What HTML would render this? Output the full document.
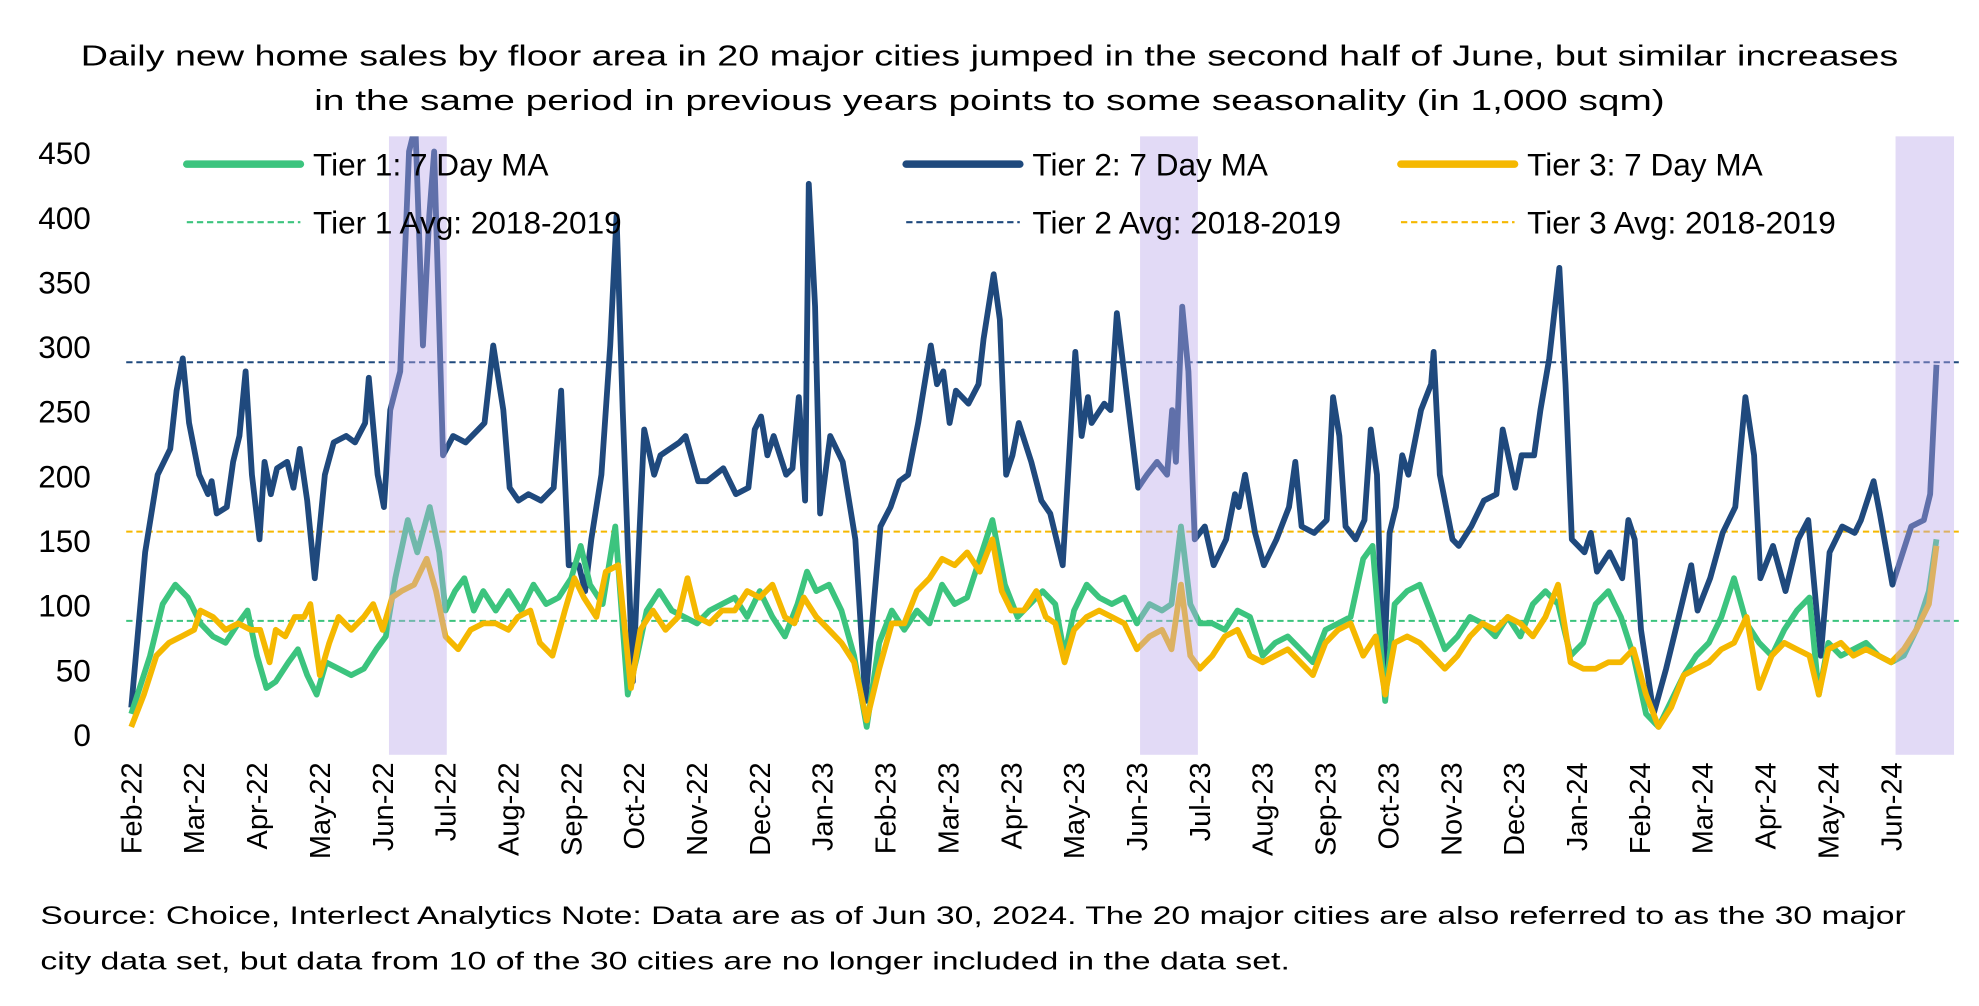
<!DOCTYPE html>
<html><head><meta charset="utf-8"><style>
html,body{margin:0;padding:0;background:#fff;}
svg{display:block;font-family:"Liberation Sans",sans-serif;}
</style></head><body>
<svg id="chart" width="1979" height="1006" viewBox="0 0 1568 797" xmlns="http://www.w3.org/2000/svg">
<text x="784" y="52" text-anchor="middle" font-size="23" textLength="1440" lengthAdjust="spacingAndGlyphs">Daily new home sales by floor area in 20 major cities jumped in the second half of June, but similar increases</text>
<text x="784" y="87" text-anchor="middle" font-size="23" textLength="1070" lengthAdjust="spacingAndGlyphs">in the same period in previous years points to some seasonality (in 1,000 sqm)</text>
<defs><clipPath id="plotclip"><rect x="95" y="108" width="1465" height="500"/></clipPath></defs>
<g id="yaxis"></g>
<g id="xaxis"></g>
<g id="series" clip-path="url(#plotclip)"></g>
<g id="bands"></g>
<g id="legend"></g>
<text x="32" y="732" font-size="20" textLength="1478" lengthAdjust="spacingAndGlyphs">Source: Choice, Interlect Analytics   Note: Data are as of Jun 30, 2024.  The 20 major cities are also referred to as the 30 major</text>
<text x="32" y="768" font-size="20" textLength="990" lengthAdjust="spacingAndGlyphs">city data set, but data from 10 of the 30 cities are no longer included in the data set.</text>
</svg>
<script>
const months = ["Feb-22","Mar-22","Apr-22","May-22","Jun-22","Jul-22","Aug-22","Sep-22","Oct-22","Nov-22","Dec-22","Jan-23","Feb-23","Mar-23","Apr-23","May-23","Jun-23","Jul-23","Aug-23","Sep-23","Oct-23","Nov-23","Dec-23","Jan-24","Feb-24","Mar-24","Apr-24","May-24","Jun-24"];
const yTicks = [0,50,100,150,200,250,300,350,400,450];
// time in months since Feb-22
const tier2T = [0,.22,.42,.62,.72,.82,.92,1.08,1.22,1.28,1.36,1.52,1.62,1.72,1.82,1.92,2.04,2.12,2.22,2.32,2.48,2.58,2.68,2.8,2.92,3.08,3.22,3.42,3.56,3.72,3.78,3.92,4.02,4.12,4.28,4.42,4.52,4.64,4.74,4.82,4.96,5.12,5.32,5.52,5.62,5.76,5.92,6.02,6.16,6.32,6.52,6.72,6.84,6.96,7.12,7.22,7.32,7.48,7.62,7.72,7.82,7.98,8.08,8.16,8.32,8.42,8.72,8.82,9.02,9.16,9.42,9.62,9.82,9.92,10.02,10.12,10.22,10.42,10.52,10.62,10.72,10.78,10.88,10.96,11.12,11.32,11.52,11.68,11.92,12.08,12.22,12.36,12.52,12.72,12.82,12.92,13.02,13.12,13.32,13.48,13.56,13.72,13.82,13.92,14.02,14.12,14.32,14.48,14.62,14.82,15.02,15.12,15.22,15.28,15.48,15.58,15.68,15.82,16.02,16.16,16.32,16.48,16.56,16.62,16.72,16.82,16.92,17.08,17.22,17.42,17.56,17.62,17.72,17.88,18.02,18.22,18.42,18.52,18.62,18.82,19.02,19.12,19.22,19.32,19.48,19.62,19.72,19.82,19.92,20.02,20.12,20.22,20.32,20.52,20.68,20.72,20.82,21.02,21.12,21.32,21.52,21.72,21.82,22.02,22.12,22.32,22.42,22.56,22.72,22.82,22.92,23.12,23.22,23.32,23.52,23.72,23.82,23.92,24.02,24.22,24.42,24.62,24.82,24.92,25.12,25.32,25.52,25.68,25.82,25.92,26.12,26.32,26.52,26.68,26.88,27.02,27.22,27.42,27.52,27.72,27.82,28.02,28.12,28.32,28.52,28.62,28.72];
const tier2V = [20,140,200,220,265,290,240,200,185,195,170,175,210,230,280,200,150,210,185,205,210,190,220,180,120,200,225,230,225,240,275,200,175,250,280,450,470,300,400,450,215,230,225,235,240,300,250,190,180,185,180,190,265,130,130,110,150,200,300,400,250,40,150,235,200,215,225,230,195,195,205,185,190,235,245,215,230,200,205,260,180,425,330,170,230,210,150,25,160,175,195,200,240,300,270,280,240,265,255,270,305,355,320,200,215,240,210,180,170,130,295,230,260,240,255,250,325,270,190,200,210,200,250,210,330,280,150,160,130,150,185,175,200,155,130,150,175,210,160,155,165,260,230,160,150,165,235,200,40,155,175,215,200,250,270,295,200,150,145,160,180,185,235,190,215,215,250,290,360,270,150,140,155,125,140,120,165,150,80,15,50,90,130,95,120,155,175,260,215,120,145,110,150,165,60,140,160,155,165,195,170,115,130,160,165,185,285];
const tier1T = [0,.3,.5,.7,.9,1.1,1.3,1.5,1.7,1.85,2.0,2.15,2.3,2.5,2.65,2.8,2.95,3.1,3.3,3.5,3.7,3.9,4.05,4.2,4.4,4.55,4.75,4.9,5.0,5.15,5.3,5.45,5.6,5.8,6.0,6.2,6.4,6.6,6.8,7.0,7.15,7.3,7.5,7.7,7.9,8.05,8.2,8.4,8.6,8.8,9.0,9.2,9.4,9.6,9.8,10.0,10.2,10.4,10.6,10.75,10.9,11.1,11.3,11.5,11.7,11.9,12.1,12.3,12.5,12.7,12.9,13.1,13.3,13.5,13.7,13.9,14.1,14.3,14.5,14.7,14.85,15.0,15.2,15.4,15.6,15.8,16.0,16.2,16.4,16.55,16.7,16.85,17.0,17.2,17.4,17.6,17.8,18.0,18.2,18.4,18.6,18.8,19.0,19.2,19.4,19.6,19.75,19.95,20.1,20.3,20.5,20.7,20.9,21.1,21.3,21.5,21.7,21.9,22.1,22.3,22.5,22.7,22.9,23.1,23.3,23.5,23.7,23.9,24.1,24.3,24.5,24.7,24.9,25.1,25.3,25.5,25.7,25.9,26.1,26.3,26.5,26.7,26.85,27.0,27.2,27.4,27.6,27.8,28.0,28.2,28.4,28.6,28.72];
const tier1V = [15,60,100,115,105,85,75,70,85,95,60,35,40,55,65,45,30,55,50,45,50,65,75,120,165,140,175,140,95,110,120,95,110,95,110,95,115,100,105,120,145,115,100,160,30,60,95,110,95,90,85,95,100,105,90,110,90,75,100,125,110,115,95,60,5,70,95,80,95,85,115,100,105,135,165,115,90,100,110,100,60,95,115,105,100,105,85,100,95,100,160,100,85,85,80,95,90,60,70,75,65,55,80,85,90,135,145,25,100,110,115,90,65,75,90,85,75,90,75,100,110,100,60,70,100,110,90,60,15,5,25,45,60,70,90,120,85,70,60,80,95,105,30,70,60,65,70,60,55,60,80,110,150];
const tier3T = [0,.2,.4,.6,.8,1.0,1.1,1.3,1.5,1.7,1.9,2.05,2.2,2.3,2.45,2.6,2.75,2.85,3.0,3.15,3.3,3.5,3.7,3.85,4.0,4.15,4.3,4.5,4.7,4.85,5.0,5.2,5.4,5.6,5.8,6.0,6.15,6.35,6.5,6.7,6.9,7.05,7.2,7.4,7.55,7.75,7.95,8.1,8.3,8.5,8.7,8.85,9.0,9.2,9.4,9.6,9.8,10.0,10.2,10.4,10.55,10.7,10.9,11.1,11.3,11.5,11.7,11.9,12.1,12.3,12.5,12.7,12.9,13.1,13.3,13.5,13.7,13.85,14.0,14.2,14.4,14.55,14.7,14.85,15.0,15.2,15.4,15.6,15.8,16.0,16.2,16.4,16.55,16.7,16.85,17.0,17.2,17.4,17.6,17.8,18.0,18.2,18.4,18.6,18.8,19.0,19.2,19.4,19.6,19.8,19.95,20.1,20.3,20.5,20.7,20.9,21.1,21.3,21.5,21.7,21.9,22.1,22.3,22.5,22.7,22.9,23.1,23.3,23.5,23.7,23.9,24.1,24.3,24.5,24.7,24.9,25.1,25.3,25.5,25.7,25.9,26.1,26.3,26.5,26.7,26.85,27.0,27.2,27.4,27.6,27.8,28.0,28.2,28.4,28.6,28.72];
const tier3V = [5,30,60,70,75,80,95,90,80,85,80,80,55,80,75,90,90,100,45,70,90,80,90,100,80,105,110,115,135,110,75,65,80,85,85,80,90,95,70,60,95,120,105,90,125,130,35,80,95,80,90,120,90,85,95,95,110,105,115,90,85,105,90,80,70,55,10,50,85,85,110,120,135,130,140,125,150,110,95,95,110,90,85,55,80,90,95,90,85,65,75,80,65,115,60,50,60,75,80,60,55,60,65,55,45,70,80,85,60,75,30,70,75,70,60,50,60,75,85,80,90,85,75,90,115,55,50,50,55,55,65,30,5,20,45,50,55,65,70,90,35,60,70,65,60,30,65,70,60,65,60,55,65,80,100,145];
const avgNames = ["Tier 1 Avg: 2018-2019","Tier 2 Avg: 2018-2019","Tier 3 Avg: 2018-2019"];
const avgValues = [87,287,156];
const bandStarts = [4.1,16.05,28.07];
const bandEnds = [5.02,16.97,29.0];

const NS="http://www.w3.org/2000/svg";
const X0=104, MW=49.8, Y0=581, YS=(581-120)/450;
const xs=m=>X0+m*MW, ys=v=>Y0-v*YS;
function mk(tag,parent,attrs){const e=document.createElementNS(NS,tag);for(const k in attrs)e.setAttribute(k,attrs[k]);parent.appendChild(e);return e;}
const C1="#3cc47e",C2="#1f497d",C3="#f5b800";

const ya=document.getElementById('yaxis');
yTicks.forEach(t=>{const e=mk('text',ya,{x:72,y:ys(t)+10,'text-anchor':'end','font-size':25});


e.textContent=t;});
const xa=document.getElementById('xaxis');
months.forEach((m,i)=>{const x=xs(i)+8;const e=mk('text',xa,{x:0,y:0,transform:`translate(${x},604) rotate(-90)`,'text-anchor':'end','font-size':23});


e.textContent=m;});

const sg=document.getElementById('series');
const avgColors=[C1,C2,C3];
avgValues.forEach((v,i)=>{const l=mk('line',sg,{x1:100,x2:1552,y1:ys(v),y2:ys(v),stroke:avgColors[i],'stroke-width':1.6,'stroke-dasharray':'5,3'});

});
function line(T,V,c,name){const d=T.map((t,i)=>(i?'L':'M')+xs(t).toFixed(1)+','+ys(V[i]).toFixed(1)).join('');
const p=mk('path',sg,{d,fill:'none',stroke:c,'stroke-width':4.6,'stroke-linejoin':'round'});

}
line(tier2T,tier2V,C2,'tier-2-line');
line(tier1T,tier1V,C1,'tier-1-line');
line(tier3T,tier3V,C3,'tier-3-line');

const bg=document.getElementById('bands');
bandStarts.forEach((s,i)=>{const r=mk('rect',bg,{x:xs(s),y:108,width:xs(bandEnds[i])-xs(s),height:490,fill:'#b9a6ea','fill-opacity':0.42});

});

const lg=document.getElementById('legend');
const lgItems=[[148,130,C1,false,"Tier 1: 7 Day MA"],[718,130,C2,false,"Tier 2: 7 Day MA"],[1110,130,C3,false,"Tier 3: 7 Day MA"],
[148,176,C1,true,avgNames[0]],[718,176,C2,true,avgNames[1]],[1110,176,C3,true,avgNames[2]]];
lgItems.forEach(([x,y,c,dash,label])=>{const g=mk('g',lg,{});


mk('line',g,dash?{x1:x,x2:x+90,y1:y,y2:y,stroke:c,'stroke-width':1.6,'stroke-dasharray':'5,3'}:{x1:x,x2:x+90,y1:y,y2:y,stroke:c,'stroke-width':6,'stroke-linecap':'round'});
const t=mk('text',g,{x:x+100,y:y+9,'font-size':25});t.textContent=label;});
</script>
</body></html>
